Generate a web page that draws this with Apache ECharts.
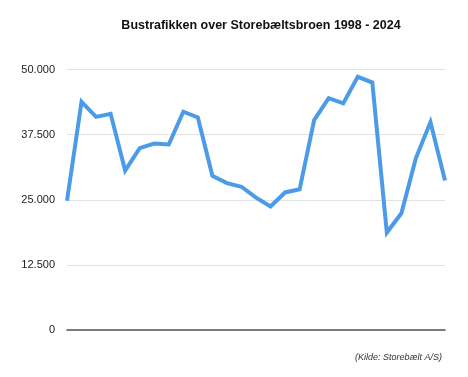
<!DOCTYPE html>
<html><head><meta charset="utf-8">
<script src="https://cdn.jsdelivr.net/npm/echarts@6/dist/echarts.min.js"></script>
<style>html,body{margin:0;padding:0;background:#fff}#c{width:468px;height:377px}</style>
</head><body><div id="c"></div>
<script>
const years = ['1998','1999','2000','2001','2002','2003','2004','2005','2006','2007','2008','2009','2010','2011','2012','2013','2014','2015','2016','2017','2018','2019','2020','2021','2022','2023','2024'];
const buses = [24800,43800,40900,41500,30600,34900,35800,35600,41900,40800,29600,28200,27500,25400,23700,26400,27000,40300,44500,43500,48600,47500,18700,22400,33000,39900,28700];
const yTicks = [0,12500,25000,37500,50000];
const titleText = 'Bustrafikken over Storebæltsbroen 1998 - 2024';
const sourceText = '(Kilde: Storebælt A/S)';

const chart = echarts.init(document.getElementById('c'), null, {renderer:'canvas'});
const fmt = v => String(v).replace(/\B(?=(\d{3})+(?!\d))/g, '.');
chart.setOption({
  animation:false,
  backgroundColor:'#fff',
  title:{text:titleText,left:256,top:14,textAlign:'center',
    textStyle:{fontFamily:'Liberation Sans, Arial, sans-serif',fontSize:12.5,fontWeight:'bold',color:'#111'}},
  graphic:[{type:'text',right:26,top:353,style:{text:sourceText,fontFamily:'Liberation Sans, Arial, sans-serif',fontSize:9,fontStyle:'italic',fill:'#333'}}],
  grid:{left:67,right:23,top:69.5,bottom:47},
  xAxis:{type:'category',data:years,boundaryGap:false,
    axisLine:{show:true,lineStyle:{color:'#555',width:1.5}},axisTick:{show:false},axisLabel:{show:false},splitLine:{show:false}},
  yAxis:{type:'value',min:yTicks[0],max:yTicks[yTicks.length-1],interval:yTicks[1]-yTicks[0],
    axisLine:{show:false},axisTick:{show:false},
    axisLabel:{formatter:fmt,margin:12,fontFamily:'Liberation Sans, Arial, sans-serif',fontSize:11,color:'#222'},
    splitLine:{lineStyle:{color:'#e2e2e2',width:1.2}}},
  series:[{type:'line',data:buses,symbol:'none',lineStyle:{color:'#4B9BE8',width:4,join:'miter'}}]
});
</script></body></html>
